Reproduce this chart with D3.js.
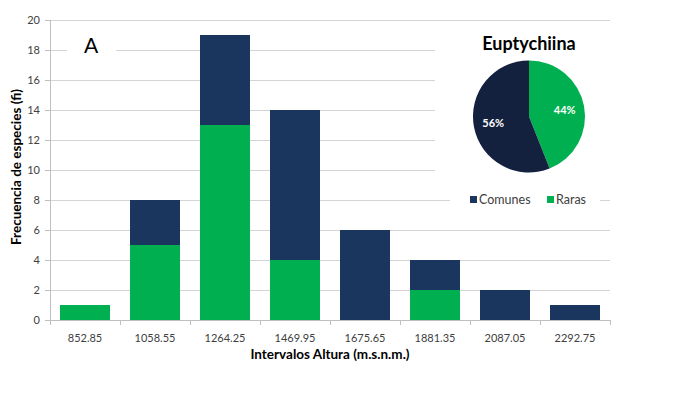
<!DOCTYPE html>
<html>
<head>
<meta charset="utf-8">
<script src="https://cdn.jsdelivr.net/npm/d3@7"></script>
<style>
  body { margin: 0; background: #fff; }
  text { font-family: Lato, "Open Sans", sans-serif; }
</style>
</head>
<body>
<div id="graf"></div>
<script>
// Datos
var intervalos = ["852.85", "1058.55", "1264.25", "1469.95", "1675.65", "1881.35", "2087.05", "2292.75"];
var raras   = [1, 5, 13, 4, 0, 2, 0, 0];
var comunes = [0, 3, 6, 10, 6, 2, 2, 1];
var yTicks = [0, 2, 4, 6, 8, 10, 12, 14, 16, 18, 20];
var pieNombres = ["Raras", "Comunes"];
var pieValores = [44, 56];

var colRaras = "#00b050", colComunes = "#1b365e", colPieComunes = "#13213f";

var margin = {top: 20, right: 77, bottom: 79, left: 50},
    width = 687 - margin.left - margin.right,
    height = 399 - margin.top - margin.bottom;

var x = d3.scaleBand().domain(intervalos).range([0, width]).paddingInner(0.286).paddingOuter(0.143);
var y = d3.scaleLinear().domain([0, 20]).range([height, 0]);

var svg = d3.select("#graf").append("svg")
    .attr("width", 687)
    .attr("height", 399)
    .append("g")
    .attr("transform", "translate(" + margin.left + "," + margin.top + ")");

// lineas de cuadricula
svg.append("g")
  .selectAll("line")
  .data(yTicks.slice(1))
  .join("line")
  .attr("x1", 0).attr("x2", width)
  .attr("y1", d => y(d) + 0.5).attr("y2", d => y(d) + 0.5)
  .attr("stroke", "#d4d4d4");

// tabla para el stack
var tabla = intervalos.map((c, i) => ({cat: c, Raras: raras[i], Comunes: comunes[i]}));
var series = d3.stack().keys(["Raras", "Comunes"])(tabla);

svg.append("g")
  .selectAll("g")
  .data(series)
  .join("g")
  .attr("fill", d => d.key == "Raras" ? colRaras : colComunes)
  .selectAll("rect")
  .data(d => d.filter(p => p[1] > p[0]))
  .join("rect")
  .attr("x", d => x(d.data.cat))
  .attr("width", x.bandwidth())
  .attr("y", d => y(d[1]))
  .attr("height", d => y(d[0]) - y(d[1]));

// eje x
var gx = svg.append("g")
  .attr("transform", "translate(0," + height + ")");
gx.append("line").attr("x1", 0).attr("x2", width).attr("y1", 0.5).attr("y2", 0.5).attr("stroke", "#bfbfbf");
gx.selectAll(".tk")
  .data(d3.range(intervalos.length + 1))
  .join("line")
  .attr("x1", i => Math.round(i * x.step()) + 0.5)
  .attr("x2", i => Math.round(i * x.step()) + 0.5)
  .attr("y1", 0).attr("y2", 5)
  .attr("stroke", "#bfbfbf");
gx.selectAll("text")
  .data(intervalos)
  .join("text")
  .attr("x", d => x(d) + x.bandwidth() / 2)
  .attr("y", 22)
  .attr("text-anchor", "middle")
  .style("font-size", "11px")
  .attr("fill", "#404040")
  .text(d => d);

// eje y
var gy = svg.append("g");
gy.append("line").attr("x1", 0.5).attr("x2", 0.5).attr("y1", 0).attr("y2", height).attr("stroke", "#bfbfbf");
gy.selectAll(".tk")
  .data(yTicks)
  .join("line")
  .attr("x1", -5).attr("x2", 0)
  .attr("y1", d => y(d) + 0.5).attr("y2", d => y(d) + 0.5)
  .attr("stroke", "#bfbfbf");
gy.selectAll("text")
  .data(yTicks)
  .join("text")
  .attr("x", -10)
  .attr("y", d => y(d) + 4)
  .attr("text-anchor", "end")
  .style("font-size", "11px")
  .attr("fill", "#404040")
  .text(d => d);

// titulos de ejes
svg.append("text")
  .attr("x", width / 2)
  .attr("y", height + 39)
  .attr("text-anchor", "middle")
  .style("font-size", "13.5px")
  .style("font-weight", "bold")
  .text("Intervalos Altura (m.s.n.m.)");

svg.append("text")
  .attr("transform", "translate(" + (-29) + "," + (height / 2 - 3) + ") rotate(-90)")
  .attr("text-anchor", "middle")
  .style("font-size", "13.5px")
  .style("font-weight", "bold")
  .text("Frecuencia de especies (fi)");

// etiqueta A
svg.append("rect").attr("x", 17).attr("y", 17).attr("width", 49).attr("height", 28).attr("fill", "#fff");
svg.append("text")
  .attr("x", 41).attr("y", 33)
  .attr("text-anchor", "middle")
  .style("font-size", "21px")
  .text("A");

// grafico de torta
svg.append("rect").attr("x", 385).attr("y", 8).attr("width", 177).attr("height", 158).attr("fill", "#fff");
svg.append("rect").attr("x", 400).attr("y", 168).attr("width", 150).attr("height", 24).attr("fill", "#fff");

svg.append("text")
  .attr("x", 479).attr("y", 30)
  .attr("text-anchor", "middle")
  .style("font-size", "18px")
  .style("font-weight", "bold")
  .text("Euptychiina");

var pie = d3.pie().sort(null)(pieValores);
var r = 56;
var arc = d3.arc().innerRadius(0).outerRadius(r);
var gp = svg.append("g").attr("transform", "translate(479,96.5)");
gp.selectAll("path")
  .data(pie)
  .join("path")
  .attr("d", arc)
  .attr("fill", (d, i) => pieNombres[i] == "Raras" ? colRaras : colPieComunes);
var arcLab = d3.arc().innerRadius(r * 0.65).outerRadius(r * 0.65);
gp.selectAll("text")
  .data(pie)
  .join("text")
  .attr("transform", d => "translate(" + arcLab.centroid(d) + ")")
  .attr("text-anchor", "middle")
  .attr("dy", "0.35em")
  .attr("fill", "#fff")
  .style("font-size", "11px")
  .style("font-weight", "bold")
  .text(d => d.value + "%");

// leyenda
var leyenda = [{n: "Comunes", c: colComunes, x: 420}, {n: "Raras", c: colRaras, x: 497}];
var gl = svg.append("g").attr("transform", "translate(0,180)");
gl.selectAll("rect")
  .data(leyenda)
  .join("rect")
  .attr("x", d => d.x).attr("y", -4)
  .attr("width", 7).attr("height", 7)
  .attr("fill", d => d.c);
gl.selectAll("text")
  .data(leyenda)
  .join("text")
  .attr("x", d => d.x + 9).attr("y", 4)
  .style("font-size", "12.5px")
  .attr("fill", "#404040")
  .text(d => d.n);
</script>
</body>
</html>
